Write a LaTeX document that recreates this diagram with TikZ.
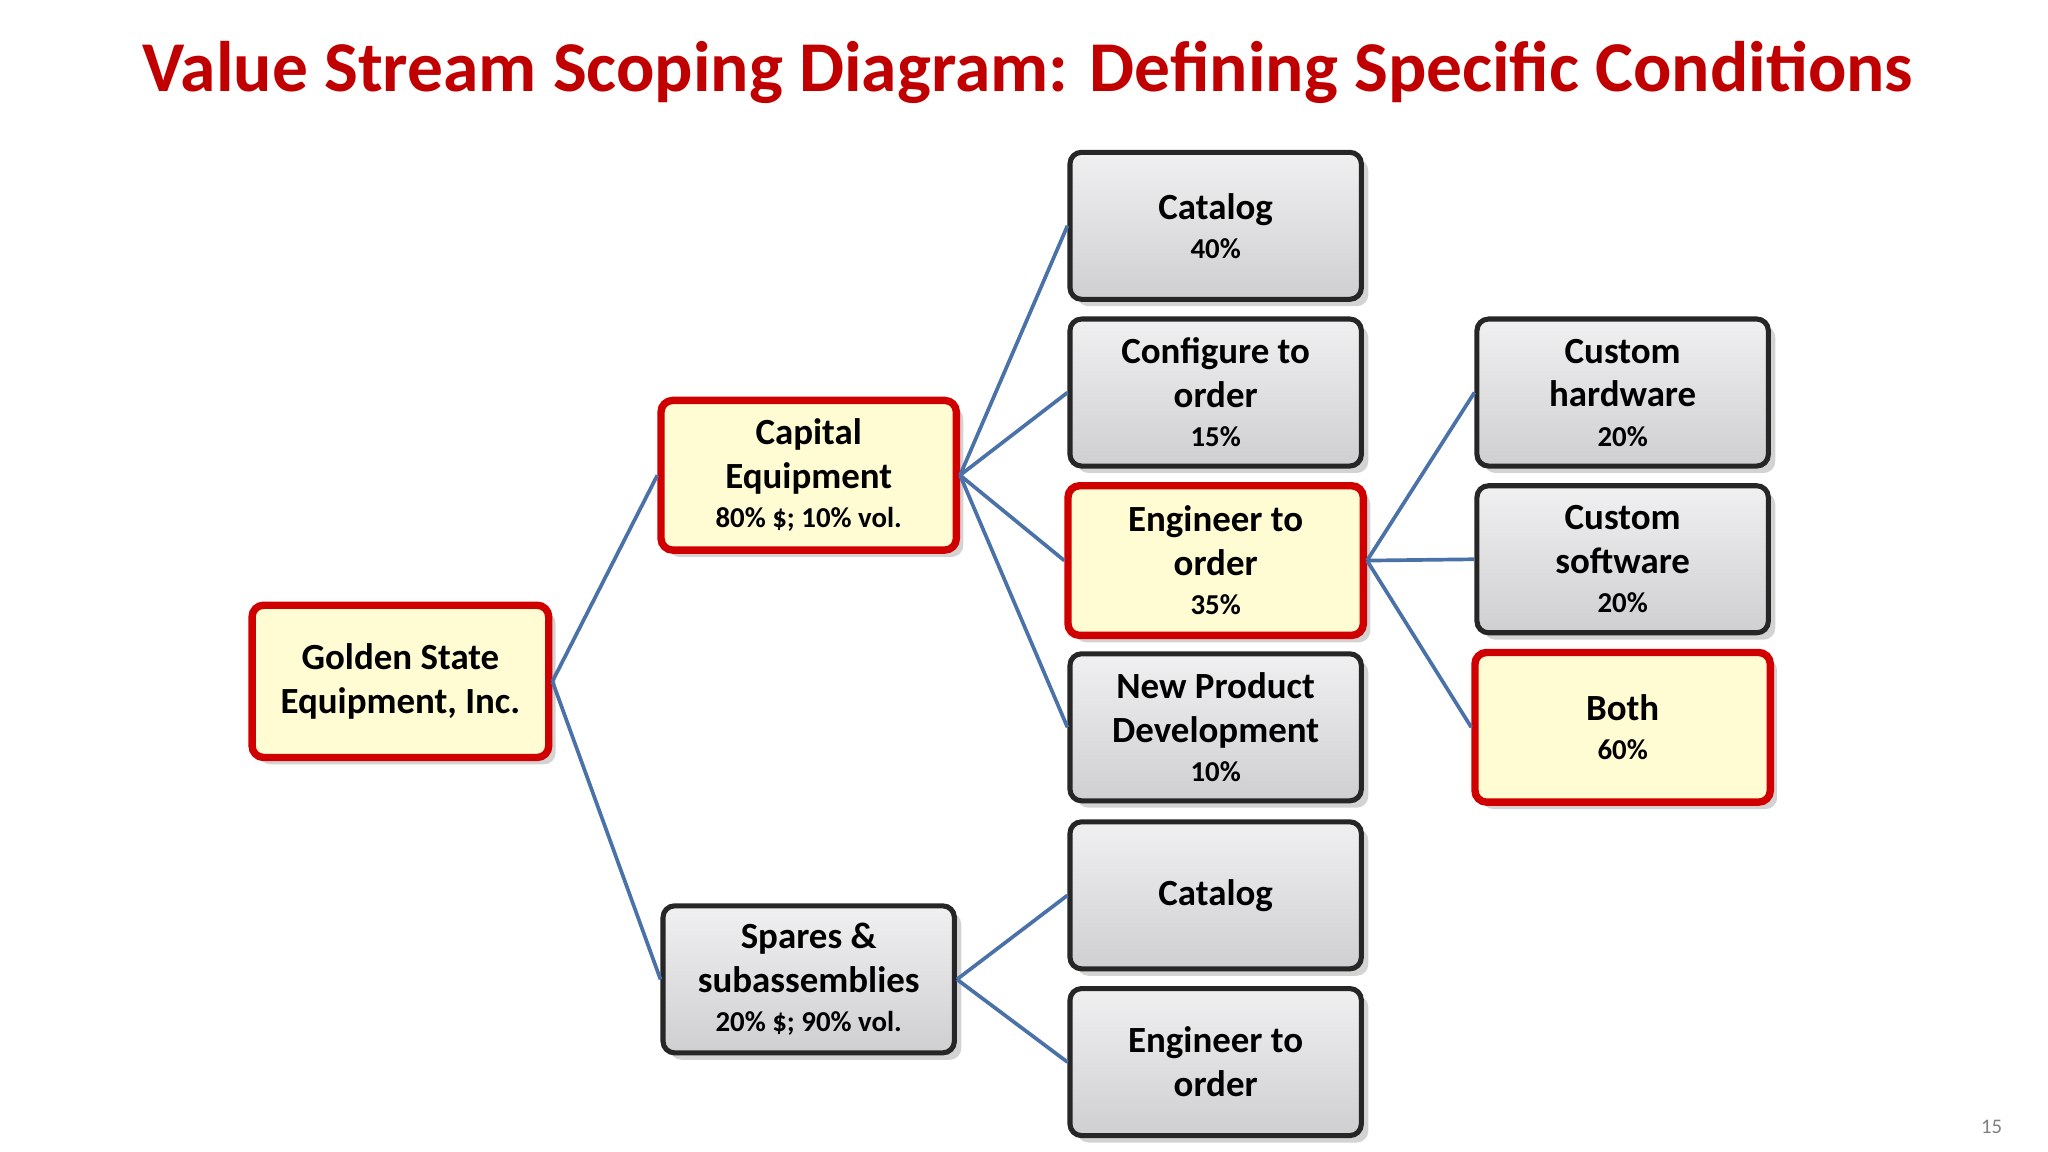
\documentclass[tikz,border=0pt]{standalone}
\usepackage{fontspec}
\setmainfont{Carlito}
\usetikzlibrary{shadows}
\definecolor{ttl}{HTML}{C00000}
\definecolor{lnk}{HTML}{4A72A8}
\definecolor{gbox}{HTML}{E6E6E8}
\definecolor{ybox}{HTML}{FFFBD2}
\definecolor{rbord}{HTML}{D00000}
\newcommand\pctf{\bfseries\fontsize{12.5}{15}\selectfont}
\begin{document}
\begin{tikzpicture}[x=0.02cm,y=-0.02cm,
  base/.style={rounded corners=5pt, minimum width=4.44cm, minimum height=2.24cm, align=center, font=\bfseries\fontsize{16}{19}\selectfont, inner sep=2pt, drop shadow={shadow xshift=3pt,shadow yshift=-3pt,opacity=0.35}},
  gb/.style={base, draw=black!85, line width=2.2pt, top color=gbox!60!white, bottom color=gbox!90!black},
  rb/.style={base, draw=rbord, line width=3.2pt, fill=ybox, minimum width=4.5cm, minimum height=2.28cm},
  lk/.style={draw=lnk, line width=1.6pt}]
\useasboundingbox (0,0) rectangle (1560,877.5);
\node[font=\bfseries\fontsize{31}{36}\selectfont, text=ttl] (title) at (783,55) {Value Stream Scoping Diagram: Defining Specific Conditions};
\node[rb, minimum width=4.52cm, minimum height=2.32cm] (gse) at (305,519) {Golden State\\Equipment, Inc.};
\node[rb] (cap) at (616,362) {Capital\\Equipment\\[-2pt]{\pctf 80\% \$; 10\% vol.}};
\node[gb] (spa) at (616,746) {Spares \&\\subassemblies\\[-2pt]{\pctf 20\% \$; 90\% vol.}};
\node[gb] (cat1) at (926,172) {Catalog\\[-2pt]{\pctf 40\%}};
\node[gb] (cto) at (926,299) {Configure to\\order\\[-2pt]{\pctf 15\%}};
\node[rb] (eto) at (926,427) {Engineer to\\order\\[-2pt]{\pctf 35\%}};
\node[gb] (npd) at (926,554) {New Product\\Development\\[-2pt]{\pctf 10\%}};
\node[gb] (cat2) at (926,682) {Catalog};
\node[gb] (eto2) at (926,809) {Engineer to\\order};
\node[gb] (chw) at (1236,299) {Custom\\hardware\\[-2pt]{\pctf 20\%}};
\node[gb] (csw) at (1236,426) {Custom\\software\\[-2pt]{\pctf 20\%}};
\node[rb] (both) at (1236,554) {Both\\[-2pt]{\pctf 60\%}};
\node[text=black!50, font=\fontsize{9}{11}\selectfont] (pg) at (1517,858) {15};
\foreach \a/\b in {gse/cap,gse/spa,cap/cat1,cap/cto,cap/eto,cap/npd,spa/cat2,spa/eto2,eto/chw,eto/csw,eto/both}
  \draw[lk] (\a.east) -- (\b.west);
\end{tikzpicture}
\end{document}
